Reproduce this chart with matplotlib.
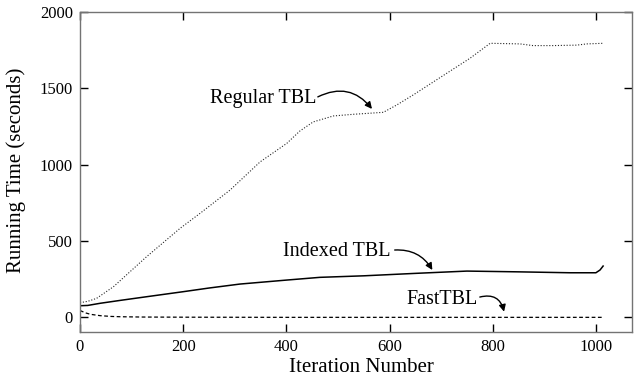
import matplotlib
matplotlib.use('Agg')
import matplotlib.pyplot as plt

# values
regular_x = [0, 15, 32, 65, 129, 194, 233, 291, 349, 401, 426, 452, 491, 530, 562,
             588, 614, 646, 711, 756, 795, 853, 878, 917, 963, 982, 1014]
regular_y = [96, 105, 124, 201, 397, 583, 682, 834, 1018, 1140, 1220, 1280, 1319, 1330, 1337,
             1343, 1391, 1457, 1599, 1697, 1795, 1791, 1780, 1780, 1783, 1791, 1795]

indexed_x = [0, 15, 39, 80, 129, 200, 250, 310, 400, 465, 550, 650, 750, 850, 950, 1000, 1008, 1014]
indexed_y = [76, 78, 92, 112, 135, 168, 192, 218, 244, 262, 272, 288, 303, 298, 292, 292, 310, 336]

fast_x = [0, 10, 20, 39, 60, 78, 120, 200, 400, 600, 800, 1014]
fast_y = [45, 30, 20, 11, 6, 4, 2, 1, 0, 0, 0, 0]

x_ticks = [0, 200, 400, 600, 800, 1000]
y_ticks = [0, 500, 1000, 1500, 2000]

plt.rcParams['font.family'] = ['Liberation Serif', 'DejaVu Serif']

fig = plt.figure(figsize=(6.34, 3.76), dpi=100)
ax = fig.add_axes([80 / 634, 1 - 332 / 376, 552 / 634, 320 / 376])

ax.plot(regular_x, regular_y, color='0.15', lw=0.8, linestyle=(0, (1, 1.6)))
ax.plot(indexed_x, indexed_y, color='black', lw=1.1, linestyle='-')
ax.plot(fast_x, fast_y, color='black', lw=0.9, linestyle=(0, (3, 2)))

ax.set_xlim(0, 1070)
ax.set_ylim(-96, 2000)
ax.set_xticks(x_ticks)
ax.set_yticks(y_ticks)

for s in ax.spines.values():
    s.set_color('0.45')
    s.set_linewidth(1.0)
ax.tick_params(direction='in', length=5.5, width=1, color='black',
               top=True, right=True, labelsize=12, pad=5)

ax.set_xlabel('Iteration Number', fontsize=15)
ax.set_ylabel('Running Time (seconds)', fontsize=15)
ax.xaxis.set_label_coords(0.509, -0.082)
ax.yaxis.set_label_coords(-0.097, 0.506)

arrow = dict(arrowstyle='-|>', color='black', lw=1, mutation_scale=10, shrinkA=0, shrinkB=0)

ax.text(356, 1435, 'Regular TBL', fontsize=14.5, ha='center', va='center')
ax.annotate('', xy=(566, 1365), xytext=(461, 1444),
            arrowprops=dict(arrow, connectionstyle='arc3,rad=-0.4'))

ax.text(498, 428, 'Indexed TBL', fontsize=14.5, ha='center', va='center')
ax.annotate('', xy=(683, 310), xytext=(610, 441),
            arrowprops=dict(arrow, connectionstyle='arc3,rad=-0.3'))

ax.text(702, 120, 'FastTBL', fontsize=14.5, ha='center', va='center')
ax.annotate('', xy=(822, 37), xytext=(775, 133),
            arrowprops=dict(arrow, connectionstyle='arc3,rad=-0.5'))

fig.savefig('out.png', dpi=100)
